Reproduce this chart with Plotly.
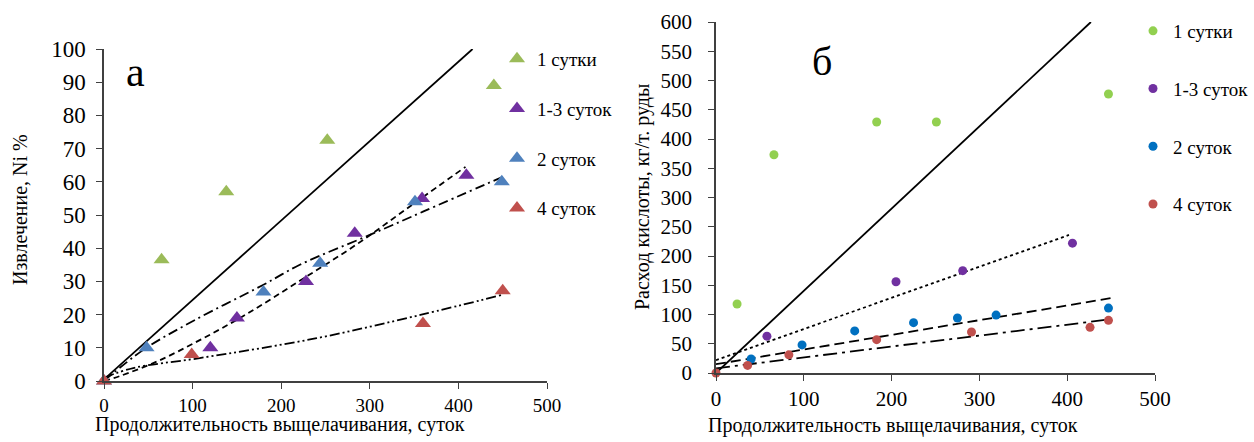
import plotly.graph_objects as go

# ---------------- Panel а: извлечение Ni, % ----------------
series_names = ["1 сутки", "1-3 суток", "2 суток", "4 суток"]

a_x_1 = [65, 138, 252, 440]
a_y_1 = [36.5, 57, 72.5, 89]
a_x_13 = [120, 150, 228, 283, 359, 409]
a_y_13 = [10, 19, 30, 44.5, 55, 62]
a_x_2 = [0, 48, 180, 244, 351, 449]
a_y_2 = [0, 10, 26.8, 35.5, 54, 60]
a_x_4 = [0, 99, 360, 450]
a_y_4 = [0, 8, 17.3, 27.2]

# trend lines
a_trend_solid_x = [0, 416]
a_trend_solid_y = [0.5, 100]
a_trend_13_x = [0, 18, 60, 108, 160, 221, 286, 350, 408]
a_trend_13_y = [0, 1.5, 5.9, 12.3, 20, 30.2, 41.3, 53.5, 64.5]
a_trend_2_x = [0, 44, 100, 180, 221, 300, 360, 450]
a_trend_2_y = [0, 9.3, 18, 29, 35, 44, 51, 61.5]
a_trend_4_x = [0, 33, 108, 240, 357, 449]
a_trend_4_y = [1, 3.9, 6.9, 12.9, 19.9, 25.9]

# ---------------- Panel б: расход кислоты ----------------
b_x_1 = [24, 66, 183, 251, 447]
b_y_1 = [118, 373, 429, 429, 477]
b_x_13 = [58, 205, 281, 406]
b_y_13 = [63, 156, 175, 222]
b_x_2 = [40, 98, 158, 225, 275, 319, 447]
b_y_2 = [24, 48, 72, 86, 94, 99, 111]
b_x_4 = [0, 36, 83, 183, 291, 426, 447]
b_y_4 = [0, 13, 31, 57, 70, 78, 90]

b_trend_solid_x = [0, 427]
b_trend_solid_y = [0, 600]
b_trend_13_x = [0, 402]
b_trend_13_y = [22, 236]
b_trend_2_x = [0, 450]
b_trend_2_y = [15, 128]
b_trend_4_x = [0, 445]
b_trend_4_y = [8, 91]

a_colors = ["#9BBB59", "#7030A0", "#4F81BD", "#C0504D"]
b_colors = ["#92D050", "#7030A0", "#0070C0", "#C0504D"]

FONT = "Liberation Serif"

fig = go.Figure()

# trend lines panel а
for xs, ys, dash in [
    (a_trend_solid_x, a_trend_solid_y, "solid"),
    (a_trend_13_x, a_trend_13_y, "6px,4px"),
    (a_trend_2_x, a_trend_2_y, "10px,4px,2px,4px"),
    (a_trend_4_x, a_trend_4_y, "10px,3px,2px,3px,2px,3px"),
]:
    fig.add_trace(go.Scatter(x=xs, y=ys, mode="lines", line=dict(color="black", width=1.8, dash=dash, shape="spline"),
                             showlegend=False, hoverinfo="skip", xaxis="x", yaxis="y"))

# markers panel а
for i, (xs, ys) in enumerate([(a_x_1, a_y_1), (a_x_13, a_y_13), (a_x_2, a_y_2), (a_x_4, a_y_4)]):
    fig.add_trace(go.Scatter(x=xs, y=ys, mode="markers", name=series_names[i],
                             marker=dict(symbol="triangle-up", size=14, color=a_colors[i]),
                             cliponaxis=False, legend="legend", legendgroup="a%d" % i,
                             xaxis="x", yaxis="y"))

# trend lines panel б
for xs, ys, dash in [
    (b_trend_solid_x, b_trend_solid_y, "solid"),
    (b_trend_13_x, b_trend_13_y, "dot"),
    (b_trend_2_x, b_trend_2_y, "10px,5px"),
    (b_trend_4_x, b_trend_4_y, "14px,5px,3px,5px"),
]:
    fig.add_trace(go.Scatter(x=xs, y=ys, mode="lines", line=dict(color="black", width=1.8, dash=dash),
                             showlegend=False, hoverinfo="skip", xaxis="x2", yaxis="y2"))

# markers panel б
for i, (xs, ys) in enumerate([(b_x_1, b_y_1), (b_x_13, b_y_13), (b_x_2, b_y_2), (b_x_4, b_y_4)]):
    fig.add_trace(go.Scatter(x=xs, y=ys, mode="markers", name=series_names[i],
                             marker=dict(symbol="circle", size=9, color=b_colors[i]),
                             cliponaxis=False, legend="legend2", legendgroup="b%d" % i,
                             xaxis="x2", yaxis="y2"))

W, H = 1254, 442

def px(v):
    return v / W

def py(v):
    return 1 - v / H

axis_common = dict(showline=True, linecolor="#404040", linewidth=1.5, ticks="outside", ticklen=6,
                   tickcolor="#404040", showgrid=False, zeroline=False, mirror=False, automargin=False)

def tf(size):
    return dict(family=FONT, size=size, color="black")

fig.update_layout(
    width=W, height=H,
    margin=dict(l=0, r=0, t=0, b=0, autoexpand=False),
    paper_bgcolor="white", plot_bgcolor="white",
    font=dict(family=FONT, color="black"),
    xaxis=dict(domain=[px(104), px(547)], range=[0, 500], dtick=100, anchor="y",
               ticklabelstandoff=0, tickfont=tf(19), **axis_common),
    yaxis=dict(domain=[py(381), py(49)], range=[0, 100], dtick=10, anchor="x",
               ticklabelstandoff=6, tickfont=tf(23), **axis_common),
    xaxis2=dict(domain=[px(716), px(1155)], range=[0, 500], dtick=100, anchor="y2",
                ticklabelstandoff=0, tickfont=tf(21), **axis_common),
    yaxis2=dict(domain=[py(373), py(22)], range=[0, 600], dtick=50, anchor="x2",
                ticklabelstandoff=12, tickfont=tf(21), **axis_common),
    legend=dict(x=px(497), y=py(40), xanchor="left", yanchor="top", tracegroupgap=22,
                font=tf(19), bgcolor="rgba(0,0,0,0)", itemwidth=30),
    legend2=dict(x=px(1133), y=py(12), xanchor="left", yanchor="top", tracegroupgap=30,
                 font=tf(19), bgcolor="rgba(0,0,0,0)", itemwidth=30),
    showlegend=True,
)

def ann(text, x, y, size, angle=0):
    return dict(text=text, x=px(x), y=py(y), xref="paper", yref="paper", showarrow=False,
                xanchor="center", yanchor="middle", textangle=angle,
                font=dict(family=FONT, size=size, color="black"))

annotations = [
    ann("а", 135, 72, 42),
    ann("б", 822, 62, 40),
    ann("Продолжительность выщелачивания, суток", 280, 424, 20),
    ann("Продолжительность выщелачивания, суток", 893, 425, 20),
    ann("Извлечение, Ni %", 20, 210, 20, -90),
    ann("Расход кислоты, кг/т. руды", 642, 197, 20, -90),
]
fig.update_layout(annotations=annotations)

fig.write_html("out.html", config={"displayModeBar": False},
               post_script="document.body.style.margin='0';document.body.style.overflow='hidden';")
